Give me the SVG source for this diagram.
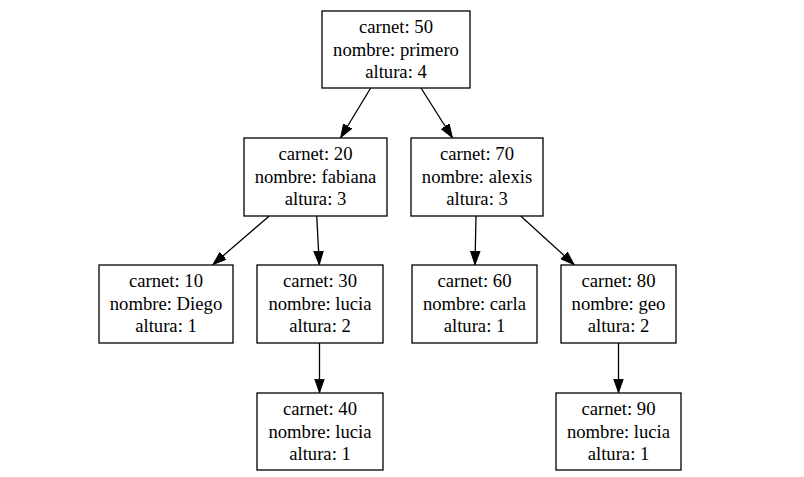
<svg xmlns="http://www.w3.org/2000/svg" width="804" height="477" viewBox="0 0 804 477">
<style>
.n rect{fill:#fff;stroke:#000;stroke-width:1.3}
.n text{font-family:'Liberation Serif','Times New Roman','DejaVu Serif',serif;font-size:18.67px;text-anchor:middle;fill:#000}
.e line{stroke:#000;stroke-width:1.3;marker-end:url(#ah)}
</style>
<defs>
<marker id="ah" markerUnits="userSpaceOnUse" markerWidth="16" markerHeight="12" refX="13.3" refY="0" viewBox="0 -6 16 12" orient="auto">
<path d="M0,-4.7 L13.3,0 L0,4.7 z" fill="#000" stroke="#000" stroke-width="1"/>
</marker>
</defs>
<rect width="804" height="477" fill="#fff"/>
<g id="edges" class="e">
<line x1="370.7" y1="88" x2="340.7" y2="137.5"/>
<line x1="421" y1="88" x2="452.3" y2="137.5"/>
<line x1="269.3" y1="216" x2="213" y2="264.5"/>
<line x1="316.7" y1="216" x2="319.3" y2="264.5"/>
<line x1="476" y1="216" x2="475" y2="264.5"/>
<line x1="520.7" y1="216" x2="574" y2="264.5"/>
<line x1="319.5" y1="343" x2="319.5" y2="392.5"/>
<line x1="618.5" y1="343" x2="618.5" y2="392.5"/>
</g>
<g id="n50" class="n" font-family="Liberation Serif, serif"><rect x="322" y="11" width="148" height="77"/><text x="396" y="33.3">carnet: 50</text><text x="396" y="55.7">nombre: primero</text><text x="396" y="78.1">altura: 4</text></g>
<g id="n20" class="n" font-family="Liberation Serif, serif"><rect x="244" y="138" width="143" height="78"/><text x="315.5" y="160.3">carnet: 20</text><text x="315.5" y="182.7">nombre: fabiana</text><text x="315.5" y="205.1">altura: 3</text></g>
<g id="n70" class="n" font-family="Liberation Serif, serif"><rect x="411" y="138" width="132" height="78"/><text x="477" y="160.3">carnet: 70</text><text x="477" y="182.7">nombre: alexis</text><text x="477" y="205.1">altura: 3</text></g>
<g id="n10" class="n" font-family="Liberation Serif, serif"><rect x="99" y="265" width="134" height="78"/><text x="166" y="287.3">carnet: 10</text><text x="166" y="309.7">nombre: Diego</text><text x="166" y="332.1">altura: 1</text></g>
<g id="n30" class="n" font-family="Liberation Serif, serif"><rect x="257" y="265" width="126" height="78"/><text x="320" y="287.3">carnet: 30</text><text x="320" y="309.7">nombre: lucia</text><text x="320" y="332.1">altura: 2</text></g>
<g id="n60" class="n" font-family="Liberation Serif, serif"><rect x="412" y="265" width="125" height="78"/><text x="474.5" y="287.3">carnet: 60</text><text x="474.5" y="309.7">nombre: carla</text><text x="474.5" y="332.1">altura: 1</text></g>
<g id="n80" class="n" font-family="Liberation Serif, serif"><rect x="561" y="265" width="115" height="78"/><text x="618.5" y="287.3">carnet: 80</text><text x="618.5" y="309.7">nombre: geo</text><text x="618.5" y="332.1">altura: 2</text></g>
<g id="n40" class="n" font-family="Liberation Serif, serif"><rect x="257" y="393" width="126" height="77"/><text x="320" y="415.3">carnet: 40</text><text x="320" y="437.7">nombre: lucia</text><text x="320" y="460.1">altura: 1</text></g>
<g id="n90" class="n" font-family="Liberation Serif, serif"><rect x="556" y="393" width="125" height="77"/><text x="618.5" y="415.3">carnet: 90</text><text x="618.5" y="437.7">nombre: lucia</text><text x="618.5" y="460.1">altura: 1</text></g>
</svg>
